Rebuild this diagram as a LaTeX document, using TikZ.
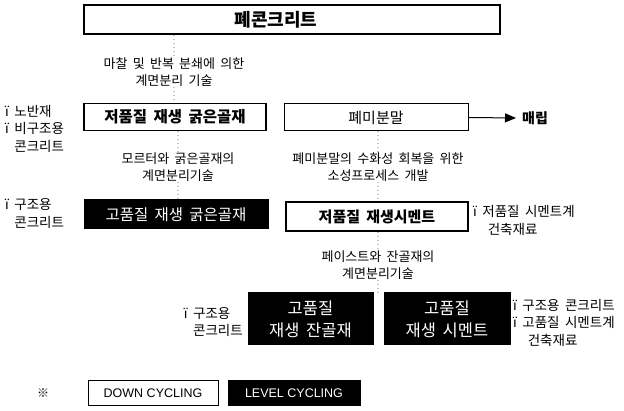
\documentclass[tikz,border=0pt]{standalone}
\usepackage{fontspec}
\setmainfont{Noto Sans CJK KR}[WordSpace=1.8]
\newfontfamily\latinfont{Liberation Sans}
\usetikzlibrary{arrows.meta}
\begin{document}
\begin{tikzpicture}[x=1pt,y=-1pt,
  wbox/.style={draw=black, fill=white, line width=1.3pt, inner sep=0pt, text=black},
  bbox/.style={draw=black, fill=black, line width=1pt, inner sep=0pt, text=white},
  lbl/.style={font=\fontsize{13}{17.5}\selectfont, align=center, inner sep=0pt},
  side/.style={font=\fontsize{13.5}{17.5}\selectfont, align=left, inner sep=0pt},
  conn/.style={draw=gray!45, line width=1.2pt, dash pattern=on 1pt off 3pt},
  arr/.style={draw=black, line width=1pt, -{Triangle[length=11pt,width=9pt]}}]
\useasboundingbox (0,0) rectangle (624,411);
% boxes
\node[wbox, minimum width=416pt, minimum height=29pt, font=\bfseries\fontsize{18}{20}\selectfont] (top) at (292,19.5) {\makebox[0pt]{\hspace*{-32pt}폐콘크리트}};
\node[wbox, minimum width=182pt, minimum height=27pt, line width=1.6pt, font=\bfseries\fontsize{15.5}{18}\selectfont] (b1) at (175,117) {저품질 재생 굵은골재};
\node[wbox, minimum width=184pt, minimum height=27pt, line width=1pt, font=\fontsize{15}{18}\selectfont] (b2) at (376,117.5) {폐미분말};
\node[bbox, minimum width=184pt, minimum height=29pt, font=\fontsize{15.5}{18}\selectfont] (b3) at (176,214.5) {고품질 재생 굵은골재};
\node[wbox, minimum width=182pt, minimum height=29pt, line width=1.6pt, font=\bfseries\fontsize{15}{18}\selectfont] (b4) at (377,216.5) {저품질 재생시멘트};
\node[bbox, minimum width=125pt, minimum height=52pt, align=center, font=\fontsize{16.5}{22}\selectfont] (b5) at (310.5,319) {고품질\\재생 잔골재};
\node[bbox, minimum width=126pt, minimum height=52pt, align=center, font=\fontsize{16.5}{22}\selectfont] (b6) at (447,319) {고품질\\재생 시멘트};
% process texts
\node[lbl] (t1) at (174,72) {마찰 및 반복 분쇄에 의한\\계면분리 기술};
\node[lbl] (t2) at (178,167) {모르터와 굵은골재의\\계면분리기술};
\node[lbl] (t3) at (378,167) {폐미분말의 수화성 회복을 위한\\소성프로세스 개발};
\node[lbl] (t4) at (378,265) {페이스트와 잔골재의\\계면분리기술};
% disposal
\node[anchor=west, inner sep=0pt, font=\bfseries\fontsize{14}{16}\selectfont] (mae) at (522,118) {매립};
\draw[arr] (b2.east) -- ([xshift=-6pt]mae.west);
% dotted connectors
\draw[conn] (t1.north |- top.south) -- (t1.north);
\draw[conn] (t1.south) -- (t1.south |- b1.north);
\draw[conn] (t2.north |- b1.south) -- (t2.north);
\draw[conn] (t2.south) -- (t2.south |- b3.north);
\draw[conn] (t3.north |- b2.south) -- (t3.north);
\draw[conn] (t3.south) -- (t3.south |- b4.north);
\draw[conn] (t4.north |- b4.south) -- (t4.north);
\draw[conn] (t4.south) -- (t4.south |- b5.north);
% side labels
\node[side, anchor=west] (l1) at (5,128.5) {ï 노반재\\ï 비구조용\\\phantom{ï}\ 콘크리트};
\node[side, anchor=west] (l2) at (5,213.5) {ï 구조용\\\phantom{ï}\ 콘크리트};
\node[side, anchor=west] (r1) at (473,220.5) {ï 저품질 시멘트계\\\phantom{ï}\ \ 건축재료};
\node[side, anchor=east] (l3) at (243,322) {ï 구조용\\\phantom{ï}\ 콘크리트};
\node[side, anchor=west] (r2) at (513,322.5) {ï 구조용 콘크리트\\ï 고품질 시멘트계\\\phantom{ï}\ \ 건축재료};
% legend
\node[font=\fontsize{12}{14}\selectfont, inner sep=0pt] (ref) at (43,393) {※};
\node[wbox, line width=1pt, minimum width=130pt, minimum height=25pt, font=\latinfont\fontsize{12.5}{15}\selectfont] (lg1) at (153,393.5) {DOWN CYCLING};
\node[bbox, minimum width=132pt, minimum height=25pt, font=\latinfont\fontsize{12.5}{15}\selectfont] (lg2) at (294,393.5) {LEVEL CYCLING};
\end{tikzpicture}
\end{document}
